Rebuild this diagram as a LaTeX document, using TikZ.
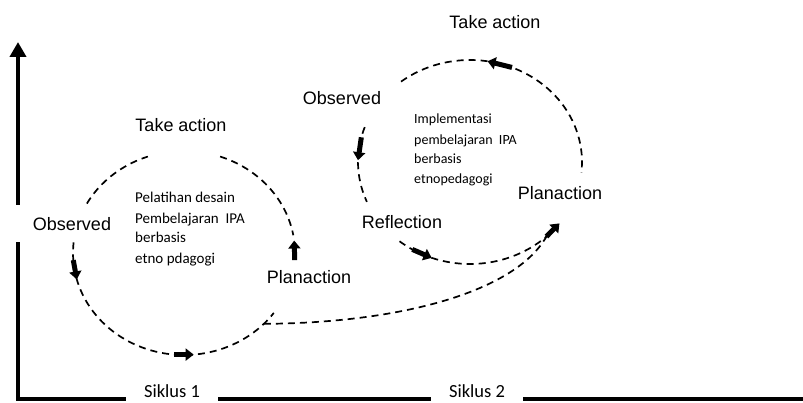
\documentclass[tikz,border=0pt]{standalone}
\usepackage{fontspec}
\setmainfont{Liberation Sans}
\newfontfamily\calfont{Carlito}
\usetikzlibrary{arrows.meta}
\newcommand\cycarr[6]{\draw[blockarr] ({#1+#3*cos(#5)},{#2+#4*sin(#5)}) -- ({#1+#3*cos(#6)},{#2+#4*sin(#6)});}
\begin{document}
\begin{tikzpicture}[x=1pt,y=-1pt,
  axis/.style={line width=4pt},
  cyc/.style={line width=1.7pt, dash pattern=on 7pt off 5pt},
  blockarr/.style={solid, line width=5pt, -{Triangle[length=8pt,width=12pt]}},
  lbl/.style={font=\fontsize{18pt}{20pt}\selectfont, inner sep=0pt},
  inner/.style={font=\calfont\fontsize{15pt}{18pt}\selectfont, inner sep=0pt, anchor=base west},
  inner2/.style={font=\calfont\fontsize{14pt}{18pt}\selectfont, inner sep=0pt, anchor=base west},
  siklus/.style={font=\calfont\fontsize{18.5pt}{20pt}\selectfont, fill=white, inner xsep=18pt, inner ysep=1pt, text depth=4pt, anchor=base}]
\useasboundingbox[fill=white] (0,0) rectangle (803,403);

% axes
\coordinate (top) at (18,42);
\coordinate (corner) at (18,399);
\coordinate (end) at (803,399);
\draw[axis, line join=miter, {Triangle[length=15pt,width=16pt]}-] (top) -- (corner) -- (end);

% cycle 1
\draw[cyc] plot[domain=209:251, samples=20] ({184+111*cos(\x)},{253+102*sin(\x)});
\draw[cyc] plot[domain=289:350, samples=25] ({184+111*cos(\x)},{253+102*sin(\x)});
\draw[cyc] plot[domain=186:36, samples=60] ({184+111*cos(\x)},{253+102*sin(\x)});
\cycarr{184}{253}{111}{102}{176}{165}
\cycarr{184}{253}{111}{102}{95}{85}
\cycarr{184}{253}{111}{102}{4}{-7}

% cycle 2
\draw[cyc] plot[domain=232:366, samples=50] ({470+112*cos(\x)},{162+102*sin(\x)});
\draw[cyc] plot[domain=200:157, samples=20] ({470+112*cos(\x)},{162+102*sin(\x)});
\draw[cyc] plot[domain=129:46, samples=40] ({470+112*cos(\x)},{162+102*sin(\x)});
\cycarr{470}{162}{112}{102}{292}{279}
\cycarr{470}{162}{112}{102}{194}{181}
\cycarr{470}{162}{112}{102}{121}{110}
\cycarr{470}{162}{112}{102}{47}{37}

% connector between cycles
\coordinate (k1) at ({184+111*cos(44)},{253+102*sin(44)});
\coordinate (a2) at ({470+112*cos(47)},{162+102*sin(47)});
\draw[cyc] (k1) .. controls (400,323) and (515,292) .. (a2);

% labels
\node[lbl] (t1) at (181,125) {Take action};
\node[lbl, fill=white, minimum width=116pt, minimum height=37pt] (o1) at (72,224) {Observed};
\node[lbl] (p1) at (309,277) {Planaction};
\node[lbl] (t2) at (495,22) {Take action};
\node[lbl] (o2) at (342,98) {Observed};
\node[lbl] (r2) at (402,222) {Reflection};
\node[lbl] (p2) at (560,193) {Planaction};

\node[inner] (i1a) at (135,203) {Pelatihan desain};
\node[inner] (i1b) at (135,224) {Pembelajaran\ \ IPA};
\node[inner] (i1c) at (135,243) {berbasis};
\node[inner] (i1d) at (135,264) {etno pdagogi};
\node[inner2] (i2a) at (414,124) {Implementasi};
\node[inner2] (i2b) at (414,145) {pembelajaran\ \ IPA};
\node[inner2] (i2c) at (414,164) {berbasis};
\node[inner2] (i2d) at (414,184) {etnopedagogi};

\node[siklus] (s1) at (172,397) {Siklus 1};
\node[siklus] (s2) at (477,397) {Siklus 2};
\end{tikzpicture}
\end{document}
